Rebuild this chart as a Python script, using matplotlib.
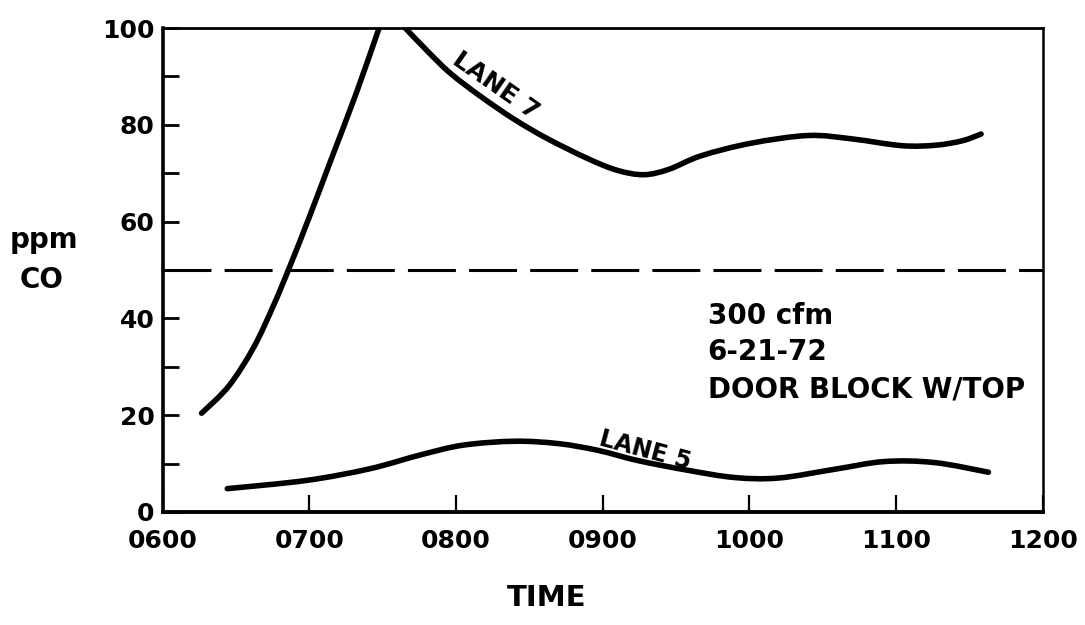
import matplotlib
matplotlib.use("Agg")
import matplotlib.pyplot as plt
from matplotlib.path import Path
from matplotlib.patches import PathPatch
import numpy as np

# hours since midnight (6.0 = 0600), CO in ppm
lane7_rise_t = [6.265, 6.45, 6.62, 6.76, 6.87, 7.0, 7.16, 7.32, 7.475]
lane7_rise_co = [20.4, 26.0, 34.0, 43.0, 51.0, 61.0, 73.8, 86.6, 100]
lane7_fall_t = [7.654, 7.80, 7.96, 8.167, 8.394, 8.62, 8.90, 9.10, 9.28,
                9.45, 9.67, 10.01, 10.40, 10.70, 11.04, 11.27, 11.45, 11.58]
lane7_fall_co = [100, 95.4, 90.7, 85.9, 81.2, 77.2, 73.0, 70.6, 69.7,
                 70.8, 73.6, 76.2, 77.8, 77.1, 75.7, 75.8, 76.7, 78.1]
lane5_t = [6.44, 6.98, 7.41, 7.76, 8.05, 8.40, 8.70, 8.97, 9.24, 9.58,
           9.90, 10.20, 10.58, 10.92, 11.26, 11.63]
lane5_co = [4.8, 6.5, 8.9, 11.8, 13.8, 14.6, 14.1, 12.7, 10.6, 8.6,
            7.1, 7.0, 8.8, 10.4, 10.2, 8.2]
limit = 50

xticks = [6, 7, 8, 9, 10, 11, 12]
xlabels = ["0600", "0700", "0800", "0900", "1000", "1100", "1200"]
yticks = [0, 20, 40, 60, 80, 100]
notes = ["300 cfm", "6-21-72", "DOOR BLOCK W/TOP"]


def smooth_path(xs, ys):
    # catmull-rom through the read points, drawn as cubic bezier segments
    p = np.column_stack([xs, ys]).astype(float)
    n = len(p)
    verts = [p[0]]
    codes = [Path.MOVETO]
    for i in range(n - 1):
        p0 = p[i - 1] if i > 0 else p[i]
        p3 = p[i + 2] if i + 2 < n else p[i + 1]
        c1 = p[i] + (p[i + 1] - p0) / 6.0
        c2 = p[i + 1] - (p3 - p[i]) / 6.0
        verts += [c1, c2, p[i + 1]]
        codes += [Path.CURVE4] * 3
    return Path(verts, codes)


plt.rcParams['font.family'] = ['DejaVu Sans']

fig = plt.figure(figsize=(10.85, 6.25), dpi=100)
ax = fig.add_axes([0.150, 0.181, 0.811, 0.774])

lw = 4.0
for xs, ys in [(lane7_rise_t, lane7_rise_co), (lane7_fall_t, lane7_fall_co),
               (lane5_t, lane5_co)]:
    ax.add_patch(PathPatch(smooth_path(xs, ys), facecolor='none',
                           edgecolor='black', lw=lw, capstyle='round',
                           joinstyle='round'))
ax.axhline(limit, color='black', lw=2.2, dashes=(15.7, 4.3))

ax.set_xlim(6, 12)
ax.set_ylim(0, 100)
ax.set_xticks(xticks)
ax.set_xticklabels(xlabels)
ax.set_yticks(yticks)
ax.set_yticks([10, 30, 50, 70, 90], minor=True)

ax.tick_params(axis='y', which='both', direction='in', length=11.5, width=2.0,
               labelsize=18, pad=6)
ax.tick_params(axis='x', which='both', direction='in', length=12, width=1.6,
               labelsize=18, pad=12)
for lab in ax.get_xticklabels() + ax.get_yticklabels():
    lab.set_fontweight('bold')

ax.spines['left'].set_linewidth(2.6)
ax.spines['bottom'].set_linewidth(2.8)
ax.spines['top'].set_linewidth(2.0)
ax.spines['right'].set_linewidth(1.8)

ax.text(8.27, 88, "LANE 7", rotation=-35, fontsize=18, fontweight='bold',
        ha='center', va='center')
ax.text(9.29, 12.8, "LANE 5", rotation=-15, fontsize=17, fontweight='bold',
        ha='center', va='center')

for s, yv in zip(notes, [40.5, 33.1, 25.2]):
    ax.text(9.715, yv, s, fontsize=20, fontweight='bold', ha='left', va='center')

fig.text(44 / 1085, 1 - 240 / 625, "ppm", fontsize=20, fontweight='bold',
         ha='center', va='center')
fig.text(42 / 1085, 1 - 280 / 625, "CO", fontsize=20, fontweight='bold',
         ha='center', va='center')
fig.text(547 / 1085, 1 - 598 / 625, "TIME", fontsize=21, fontweight='bold',
         ha='center', va='center')

fig.savefig("out.png", dpi=100)
